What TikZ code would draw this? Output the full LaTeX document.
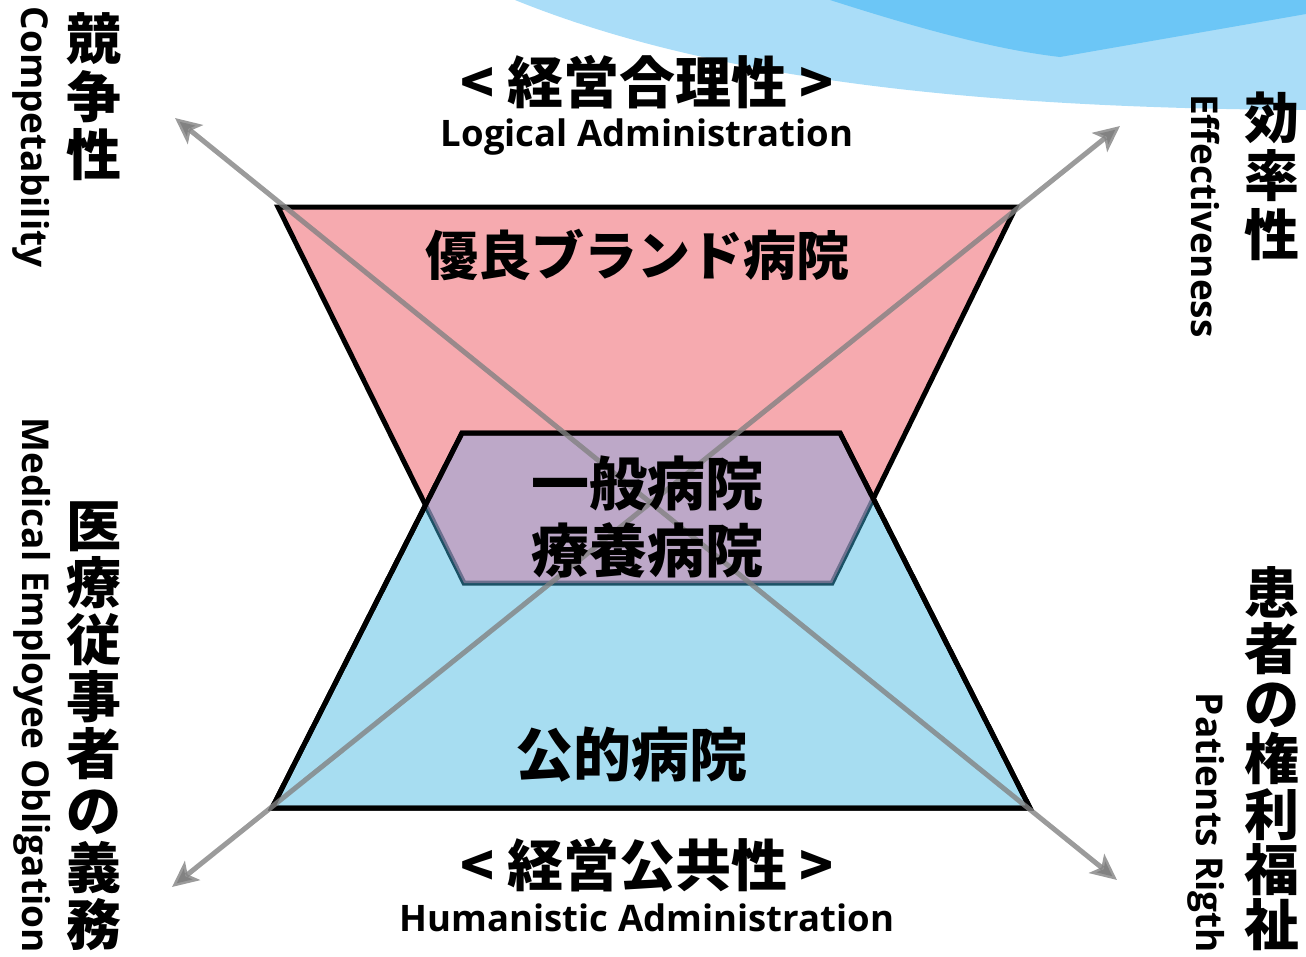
\documentclass[tikz,border=0pt]{standalone}
\usepackage{fontspec}
\setmainfont{Open Sans}
\newfontfamily\cjk{Noto Sans CJK JP}
\usetikzlibrary{arrows.meta}
\definecolor{wavelight}{RGB}{170,221,248}
\definecolor{wavedark}{RGB}{108,198,246}
\definecolor{redfill}{RGB}{238,85,95}
\definecolor{bluefill}{RGB}{60,180,225}
\definecolor{mixtint}{RGB}{230,160,205}
\definecolor{axisgray}{RGB}{130,130,130}
\tikzset{
  trap/.style={draw=black, line width=5pt, line join=miter},
  redtrap/.style={trap, fill=redfill, fill opacity=0.5},
  bluetrap/.style={trap, fill=bluefill, fill opacity=0.45},
  axisline/.style={draw=axisgray, draw opacity=0.8, line width=5pt,
    {Stealth[length=26pt,width=24pt,inset=6pt]}-{Stealth[length=26pt,width=24pt,inset=6pt]}},
  jtitle/.style={inner sep=0pt, font=\cjk\bfseries\fontsize{56}{60}\selectfont},
  jbig/.style={inner sep=0pt, align=center, font=\cjk\bfseries\fontsize{#1}{#1}\selectfont},
  etitle/.style={inner sep=0pt, font=\bfseries\fontsize{36.5}{40}\selectfont},
  evert/.style={inner sep=0pt, rotate=-90, font=\bfseries\fontsize{#1}{#1}\selectfont},
  jvert/.style={inner sep=0pt, align=center, font=\cjk\bfseries\fontsize{55}{#1}\selectfont}
}
\begin{document}
\begin{tikzpicture}[x=1pt,y=-1pt]
\useasboundingbox (0,0) rectangle (1306,956);
% background wave
\fill[wavelight] (515,0) .. controls (700,75) and (950,108) .. (1306,110) -- (1306,0) -- cycle;
\fill[wavedark] (830,0) .. controls (930,32) and (1000,50) .. (1060,57) -- (1306,14) -- (1306,0) -- cycle;
% corners
\coordinate (rtl) at (278,207);
\coordinate (rtr) at (1016,207);
\coordinate (rbr) at (832,583);
\coordinate (rbl) at (464,583);
\coordinate (btl) at (462,433);
\coordinate (btr) at (840,433);
\coordinate (bbr) at (1030,808);
\coordinate (bbl) at (272,808);
% trapezoids
\path[redtrap] (rtl) -- (rtr) -- (rbr) -- (rbl) -- cycle;
\path[bluetrap] (btl) -- (btr) -- (bbr) -- (bbl) -- cycle;
\begin{scope}
  \clip (btl) -- (btr) -- (bbr) -- (bbl) -- cycle;
  \fill[mixtint, fill opacity=0.4] (rtl) -- (rtr) -- (rbr) -- (rbl) -- cycle;
\end{scope}
\path[trap] (btl) -- (btr) -- (bbr) -- (bbl) -- cycle;
% axes
\coordinate (a1) at (175,118);
\coordinate (a2) at (1117,880);
\coordinate (b1) at (172,887);
\coordinate (b2) at (1120,126);
\path[axisline] (a1) -- (a2);
\path[axisline] (b1) -- (b2);
% titles
\node[jtitle] (t1) at (647,82) {< 経営合理性 >};
\node[etitle] (e1) at (647,137) {Logical Administration};
\node[jtitle] (t2) at (647,865) {< 経営公共性 >};
\node[etitle] (e2) at (647,918) {Humanistic Administration};
% inner labels
\node[jbig=53] (brand) at (637,255) {優良ブランド病院};
\node[jbig=58, font=\cjk\bfseries\fontsize{58}{67}\selectfont] (gen) at (647,517) {一般病院\\療養病院};
\node[jbig=58] (pub) at (631,755) {公的病院};
% side labels
\node[jvert=58] (comp) at (94,97) {競\\争\\性};
\node[evert=37] (compe) at (31,137) {Competability};
\node[jvert=57] (med) at (94,726) {医\\療\\従\\事\\者\\の\\義\\務};
\node[evert=37] (mede) at (32,685) {Medical Employee Obligation};
\node[jvert=58.5] (eff) at (1272,176) {効\\率\\性};
\node[evert=37] (effe) at (1205,216) {Effectiveness};
\node[jvert=55.3] (pat) at (1272,759) {患\\者\\の\\権\\利\\福\\祉};
\node[evert=37] (pate) at (1206,823) {Patients Rigth};
\end{tikzpicture}
\end{document}
